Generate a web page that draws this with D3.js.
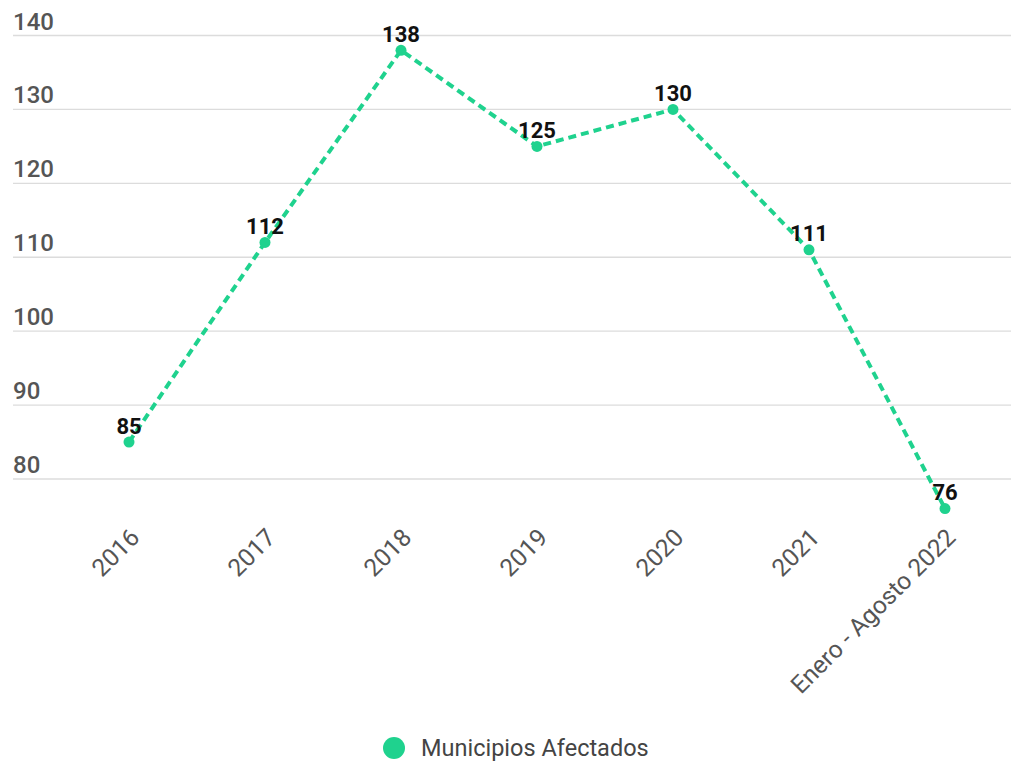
<!DOCTYPE html>
<html><head><meta charset="utf-8">
<script src="https://cdn.jsdelivr.net/npm/d3@7/dist/d3.min.js"></script>
<style>
html,body{margin:0;padding:0;background:#fff;}
svg{display:block;font-family:Roboto,"Noto Sans",sans-serif;}
</style></head>
<body>
<svg id="chart" width="1011" height="761"></svg>
<script>
const categories = ["2016","2017","2018","2019","2020","2021","Enero - Agosto 2022"];
const values = [85,112,138,125,130,111,76];
const yTicks = [80,90,100,110,120,130,140];
const seriesName = "Municipios Afectados";

const green = "#1fd28e";
const svg = d3.select("#chart");
const x = d3.scalePoint().domain(categories).range([129, 945]);
const y = d3.scaleLinear().domain([80,140]).range([479, 35.5]);

// grid + y labels
const g = svg.append("g");
g.selectAll("line.grid").data(yTicks).join("line")
  .attr("x1", 13).attr("x2", 1011)
  .attr("y1", d => y(d)).attr("y2", d => y(d))
  .attr("stroke", "#dcdcdc").attr("stroke-width", 1.3);
g.selectAll("text.ylab").data(yTicks).join("text")
  .attr("x", 13).attr("y", d => y(d) - 6)
  .attr("fill", "#555").attr("font-size", 24).attr("font-weight", 500)
  .text(d => d);

// x labels
svg.append("g").selectAll("text").data(categories).join("text")
  .attr("transform", d => `translate(${x(d)+12},${539}) rotate(-45)`)
  .attr("text-anchor", "end")
  .attr("fill", "#555").attr("font-size", 24.5).attr("font-weight", 400)
  .text(d => d);

const pts = categories.map((c,i) => ({c, v: values[i]}));
// line
svg.append("path").datum(pts)
  .attr("d", d3.line().x(d => x(d.c)).y(d => y(d.v)))
  .attr("fill", "none").attr("stroke", green)
  .attr("stroke-width", 4).attr("stroke-dasharray", "8,5");
// points
svg.append("g").selectAll("circle").data(pts).join("circle")
  .attr("cx", d => x(d.c)).attr("cy", d => y(d.v)).attr("r", 5.5)
  .attr("fill", green);
// value labels
svg.append("g").selectAll("text").data(pts).join("text")
  .attr("x", d => x(d.c)).attr("y", d => y(d.v) - 8.5)
  .attr("text-anchor", "middle").attr("font-weight", "bold")
  .attr("font-size", 22).attr("fill", "#111")
  .text(d => d.v);

// legend
const lg = svg.append("g");
lg.append("circle").attr("cx", 394).attr("cy", 748).attr("r", 11).attr("fill", green);
lg.append("text").attr("x", 421).attr("y", 756).attr("font-size", 23.5).attr("font-weight", 400).attr("fill", "#444").text(seriesName);
</script>
</body></html>
